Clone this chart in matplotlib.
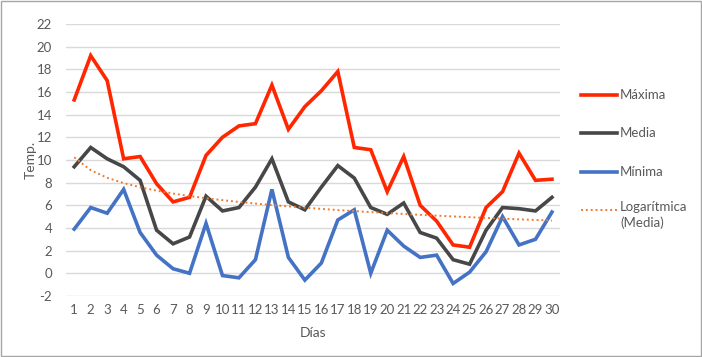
import numpy as np
import matplotlib
matplotlib.use("Agg")
import matplotlib.pyplot as plt
from matplotlib.lines import Line2D
from matplotlib.patches import Rectangle

plt.rcParams['font.family'] = ['Lato', 'DejaVu Sans']
plt.rcParams['axes.unicode_minus'] = False

dias = list(range(1, 31))
maxima = [15.3, 19.2, 17.0, 10.1, 10.3, 7.9, 6.3, 6.7, 10.4, 12.0,
          13.0, 13.2, 16.6, 12.7, 14.7, 16.1, 17.8, 11.1, 10.9, 7.2,
          10.3, 6.0, 4.6, 2.5, 2.3, 5.8, 7.2, 10.6, 8.2, 8.3]
media = [9.4, 11.1, 10.1, 9.4, 8.2, 3.8, 2.6, 3.2, 6.8, 5.5,
         5.8, 7.6, 10.1, 6.3, 5.6, 7.6, 9.5, 8.4, 5.8, 5.2,
         6.2, 3.6, 3.1, 1.2, 0.8, 3.8, 5.8, 5.7, 5.5, 6.7]
minima = [3.9, 5.8, 5.3, 7.4, 3.6, 1.6, 0.4, 0.0, 4.4, -0.2,
          -0.4, 1.2, 7.4, 1.4, -0.6, 0.9, 4.7, 5.6, 0.0, 3.8,
          2.4, 1.4, 1.6, -0.9, 0.1, 1.9, 5.0, 2.5, 3.0, 5.4]
etiquetas = ["Máxima", "Media", "Mínima", "Logarítmica\n(Media)"]

# tendencia logaritmica de la media (como la de Excel)
x = np.array(dias)
b, a = np.polyfit(np.log(x), media, 1)
tendencia = a + b * np.log(x)

fig = plt.figure(figsize=(7.02, 3.57), dpi=100)
ax = fig.add_axes([0.094, 0.171, 0.704, 0.762])

c_max, c_med, c_min, c_log = "#FF2600", "#474747", "#4472C4", "#ED7D31"
ax.plot(dias, maxima, color=c_max, lw=2.6, solid_joinstyle="miter")
ax.plot(dias, media, color=c_med, lw=2.6, solid_joinstyle="miter")
ax.plot(dias, minima, color=c_min, lw=2.6, solid_joinstyle="miter")
ax.plot(dias, tendencia, color=c_log, lw=1.4, ls=(0, (1, 1.5)))

ax.set_xlim(0.5, 30.5)
ax.set_ylim(-2, 22)
ax.set_yticks(range(-2, 23, 2))
ax.set_xticks(dias)
ax.grid(axis="y", color="#d9d9d9", lw=1)
ax.set_axisbelow(True)
for s in ax.spines.values():
    s.set_visible(False)
ax.tick_params(length=0, labelsize=9.5, labelcolor="#595959", pad=6)
ax.tick_params(axis="y", pad=10)
ax.set_xlabel("Días", fontsize=10, color="#595959", labelpad=8)
ax.set_ylabel("Temp.", fontsize=10, color="#595959", labelpad=0)

# leyenda a mano
colores = [c_max, c_med, c_min, c_log]
ys = [95, 133, 172, 210]
for lab, col, yy in zip(etiquetas, colores, ys):
    yf = 1 - yy / 357
    if col == c_log:
        ln = Line2D([581 / 702, 617 / 702], [yf, yf], color=col, lw=1.4,
                    ls=(0, (1, 1.5)), transform=fig.transFigure)
        fig.text(620 / 702, yf + 0.025, lab, fontsize=9.5, color="#595959",
                 va="top", ha="left", linespacing=1.3)
    else:
        ln = Line2D([581 / 702, 617 / 702], [yf, yf], color=col, lw=2.6,
                    transform=fig.transFigure)
        fig.text(620 / 702, yf, lab, fontsize=9.5, color="#595959",
                 va="center", ha="left")
    fig.add_artist(ln)

fig.add_artist(Rectangle((0.001, 0.002), 0.997, 0.996, transform=fig.transFigure,
                         fill=False, ec="#a6a6a6", lw=1))

fig.savefig("out.png", dpi=100)
